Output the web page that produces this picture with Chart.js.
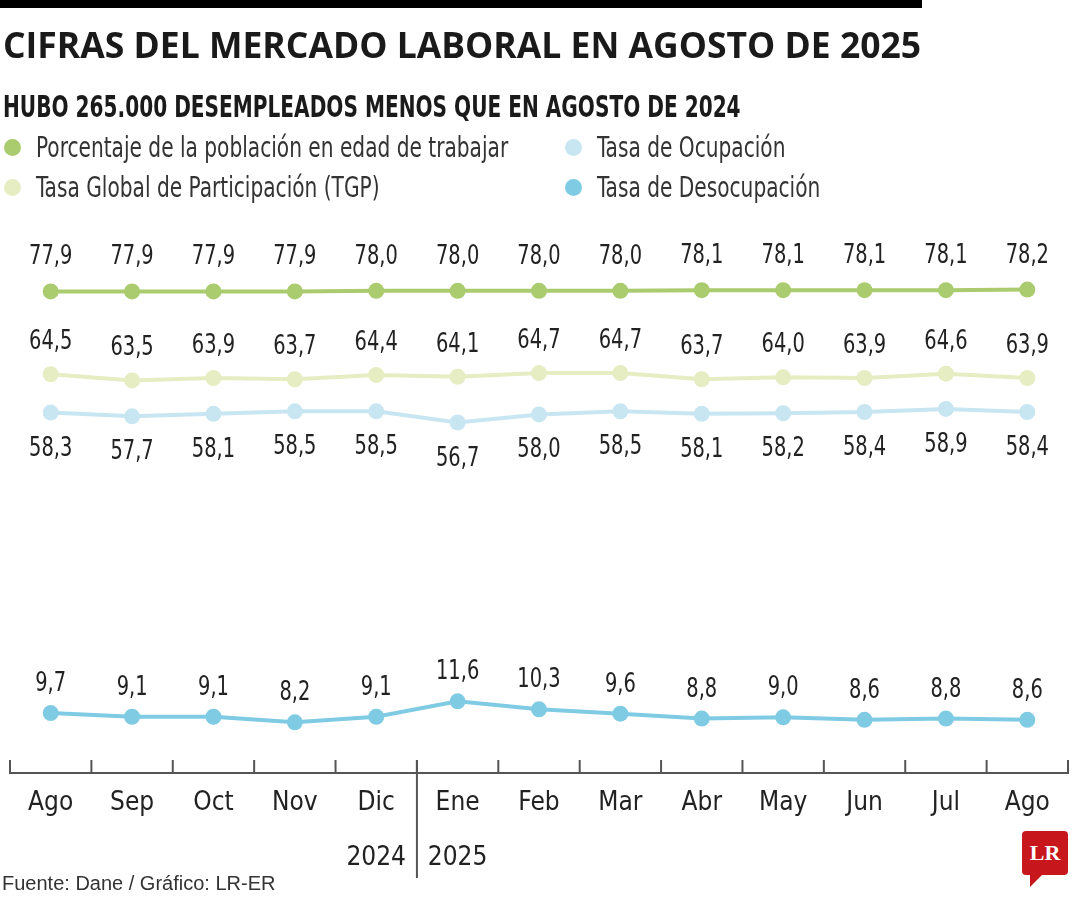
<!DOCTYPE html>
<html>
<head>
    <title>Cifras del mercado laboral en agosto de 2025</title>
    <script src="https://cdn.jsdelivr.net/npm/chart.js"></script>
    <style>
        body { margin: 0; background: #fff; }
        #wrap { position: relative; width: 1080px; height: 900px; overflow: hidden; }
        #laborChart { position: absolute; left: 0; top: 0; }
        .txt { position: absolute; color: #1a1a1a; white-space: nowrap; transform-origin: 0 0; }
        #topbar { position: absolute; left: 0; top: 0; width: 922px; height: 8px; background: #000; }
        #title { left: 3px; top: 20px; font: bold 35.5px "Open Sans"; }
        #subtitle { left: 3px; top: 89px; font: bold 30px "DejaVu Sans Condensed"; transform: scaleX(0.745); }
        .leg { font: 28px "DejaVu Sans Condensed"; color: #333; transform: scaleX(0.8); }
        .dot { position: absolute; width: 17px; height: 17px; border-radius: 50%; }
        #source { left: 2px; top: 872px; font: 20px "Liberation Sans"; color: #333; }
        #logo { position: absolute; left: 1022px; top: 831px; width: 46px; height: 44px; background: #c8161d;
                border-radius: 4px; color: #fff; font: bold 22px "Liberation Serif"; text-align: center; line-height: 44px; }
        #logo:after { content: ""; position: absolute; left: 8px; top: 44px; border-left: 0 solid transparent;
                border-right: 12px solid transparent; border-top: 12px solid #c8161d; }
    </style>
</head>
<body>
<div id="wrap">
    <canvas id="laborChart" width="1080" height="900"></canvas>
    <div id="topbar"></div>
    <div class="txt" id="title">CIFRAS DEL MERCADO LABORAL EN AGOSTO DE 2025</div>
    <div class="txt" id="subtitle">HUBO 265.000 DESEMPLEADOS MENOS QUE EN AGOSTO DE 2024</div>
    <div id="legend"></div>
    <div class="txt" id="source">Fuente: Dane / Gráfico: LR-ER</div>
    <div id="logo">LR</div>
</div>
<script>
    // datos (DANE)
    const months = ['Ago', 'Sep', 'Oct', 'Nov', 'Dic', 'Ene', 'Feb', 'Mar', 'Abr', 'May', 'Jun', 'Jul', 'Ago'];
    const years = ['', '', '', '', '2024', '2025', '', '', '', '', '', '', ''];
    const petValues = [77.9, 77.9, 77.9, 77.9, 78.0, 78.0, 78.0, 78.0, 78.1, 78.1, 78.1, 78.1, 78.2];
    const tgpValues = [64.5, 63.5, 63.9, 63.7, 64.4, 64.1, 64.7, 64.7, 63.7, 64.0, 63.9, 64.6, 63.9];
    const toValues = [58.3, 57.7, 58.1, 58.5, 58.5, 56.7, 58.0, 58.5, 58.1, 58.2, 58.4, 58.9, 58.4];
    const tdValues = [9.7, 9.1, 9.1, 8.2, 9.1, 11.6, 10.3, 9.6, 8.8, 9.0, 8.6, 8.8, 8.6];

    const series = [
        { label: 'Porcentaje de la población en edad de trabajar', data: petValues, color: '#aacb6e', off: -34, lx: 12, ly: 147 },
        { label: 'Tasa Global de Participación (TGP)', data: tgpValues, color: '#e6edc2', off: -32, lx: 12, ly: 187 },
        { label: 'Tasa de Ocupación', data: toValues, color: '#c8e6f2', off: 36, lx: 573, ly: 147 },
        { label: 'Tasa de Desocupación', data: tdValues, color: '#80cbe4', off: -29, lx: 573, ly: 187 }
    ];

    // leyenda en html (dos columnas)
    const legendEl = document.getElementById('legend');
    series.forEach(s => {
        const dot = document.createElement('div');
        dot.className = 'dot';
        dot.style.left = (s.lx - 8) + 'px';
        dot.style.top = (s.ly - 8) + 'px';
        dot.style.background = s.color;
        legendEl.appendChild(dot);
        const t = document.createElement('div');
        t.className = 'txt leg';
        t.textContent = s.label;
        t.style.left = (s.lx + 24) + 'px';
        t.style.top = (s.ly - 16) + 'px';
        legendEl.appendChild(t);
    });

    const labels = months.map((m, i) => years[i] ? [m, years[i]] : m);
    const fontFamily = '"DejaVu Sans Condensed"';

    // etiquetas de valor sobre/bajo cada punto (un poco estrechadas)
    const valueLabels = {
        id: 'valueLabels',
        afterDatasetsDraw(chart) {
            const ctx = chart.ctx;
            chart.data.datasets.forEach((ds, i) => {
                chart.getDatasetMeta(i).data.forEach((pt, j) => {
                    const txt = ds.data[j].toFixed(1).replace('.', ',');
                    ctx.save();
                    ctx.font = '27px ' + fontFamily;
                    ctx.fillStyle = '#222';
                    ctx.textAlign = 'center';
                    ctx.textBaseline = 'middle';
                    ctx.translate(pt.x, pt.y + series[i].off);
                    ctx.scale(0.8, 1);
                    ctx.fillText(txt, 0, 0);
                    ctx.restore();
                });
            });
        }
    };

    // marcas del eje x entre meses y separador de años
    const axisMarks = {
        id: 'axisMarks',
        afterDraw(chart) {
            const ctx = chart.ctx;
            const x = chart.scales.x;
            const bottom = chart.chartArea.bottom;
            const step = x.getPixelForValue(1) - x.getPixelForValue(0);
            ctx.save();
            ctx.strokeStyle = '#555';
            ctx.lineWidth = 2;
            for (let i = 0; i <= months.length; i++) {
                const px = x.getPixelForValue(0) - step / 2 + i * step;
                ctx.beginPath();
                ctx.moveTo(px, bottom);
                ctx.lineTo(px, bottom - 13);
                ctx.stroke();
            }
            const sep = x.getPixelForValue(years.indexOf('2025')) - step / 2;
            ctx.beginPath();
            ctx.moveTo(sep, bottom - 13);
            ctx.lineTo(sep, bottom + 105);
            ctx.stroke();
            ctx.restore();
        }
    };

    const ctx = document.getElementById('laborChart').getContext('2d');
    new Chart(ctx, {
        type: 'line',
        data: {
            labels: labels,
            datasets: series.map(s => ({
                label: s.label,
                data: s.data,
                borderColor: s.color,
                backgroundColor: s.color,
                borderWidth: 4,
                pointRadius: 8,
                pointBorderWidth: 0,
                tension: 0
            }))
        },
        options: {
            responsive: false,
            animation: false,
            events: [],
            layout: { padding: { top: 229, left: 10, right: 12, bottom: 0 } },
            scales: {
                y: { display: false, min: 0, max: 88 },
                x: {
                    offset: true,
                    afterFit: (scale) => { scale.height = 127; },
                    grid: { display: false },
                    border: { display: true, color: '#555', width: 2 },
                    ticks: {
                        autoSkip: false,
                        maxRotation: 0,
                        padding: -5,
                        color: '#222',
                        font: { family: fontFamily, size: 26, lineHeight: 2.115 }
                    }
                }
            },
            plugins: {
                legend: { display: false },
                tooltip: { enabled: false }
            }
        },
        plugins: [valueLabels, axisMarks]
    });
</script>
</body>
</html>
